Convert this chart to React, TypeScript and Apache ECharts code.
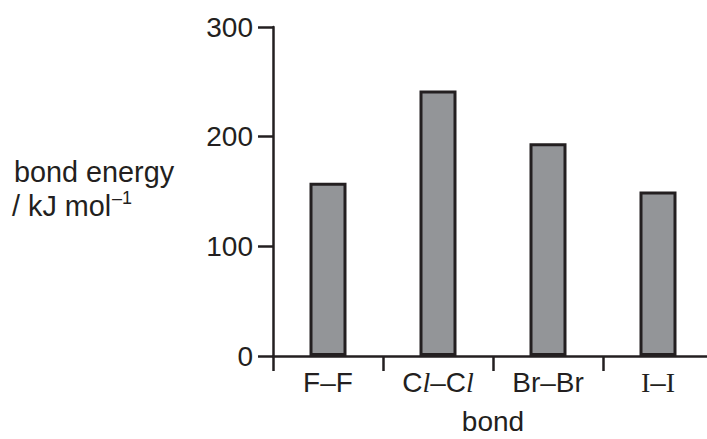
import React, { useEffect, useRef } from "react";
import * as echarts from "echarts";

const categories = ["F–F", "Cl–Cl", "Br–Br", "I–I"];
const categoryLabels = ["F–F", "C{it|l}–C{it|l}", "Br–Br", "{sf|I}–{sf|I}"];
const bondEnergies = [158, 242, 194, 150];
const yTicks = [0, 100, 200, 300];

const INK = "#231f20";
const FONT = "'Liberation Sans', Arial, Helvetica, sans-serif";
const SERIF = "'Liberation Serif', 'Times New Roman', serif";

export default function App() {
  const ref = useRef<HTMLDivElement>(null);
  useEffect(() => {
    if (!ref.current) return;
    const chart = echarts.init(ref.current, null, { renderer: "svg" });
    chart.setOption({
      animation: false,
      backgroundColor: "#ffffff",
      grid: {
        left: 273,
        top: 27,
        bottom: 83,
        right: -6,
        containLabel: false,
        outerBoundsMode: "none",
      },
      xAxis: {
        type: "category",
        data: categories,
        name: "bond",
        nameLocation: "middle",
        nameGap: 54,
        nameTextStyle: { fontFamily: FONT, fontSize: 28, lineHeight: 22, color: INK },
        axisLine: { lineStyle: { color: INK, width: 2.5 } },
        axisTick: { show: true, interval: 0, length: 15, lineStyle: { color: INK, width: 2.5 } },
        axisLabel: {
          interval: 0,
          margin: 12,
          fontFamily: FONT,
          fontSize: 28,
          color: INK,
          formatter: (_v: string, i: number) => categoryLabels[i],
          rich: {
            it: { fontFamily: SERIF, fontStyle: "italic", fontSize: 28, color: INK },
            sf: { fontFamily: SERIF, fontSize: 28, color: INK },
          },
        },
      },
      yAxis: {
        type: "value",
        min: yTicks[0],
        max: yTicks[yTicks.length - 1],
        interval: 100,
        splitLine: { show: false },
        axisLine: { show: true, lineStyle: { color: INK, width: 2.5 } },
        axisTick: { show: true, length: 15, lineStyle: { color: INK, width: 2.5 } },
        axisLabel: { margin: 20, fontFamily: FONT, fontSize: 28, color: INK },
      },
      series: [
        {
          type: "bar",
          data: bondEnergies,
          barWidth: 37,
          itemStyle: { color: "#939598", borderColor: INK, borderWidth: 3 },
        },
      ],
      graphic: [
        {
          type: "text",
          left: 14,
          top: 157,
          style: { text: "bond energy", font: `28.8px ${FONT}`, fill: INK },
        },
        {
          type: "text",
          left: 12,
          top: 191,
          style: { text: "/ kJ mol", font: `28.8px ${FONT}`, fill: INK },
        },
        {
          type: "text",
          left: 112,
          top: 189,
          style: { text: "–1", font: `18px ${FONT}`, fill: INK },
        },
      ],
    });
    return () => chart.dispose();
  }, []);
  return (
    <div
      ref={ref}
      style={{ position: "absolute", left: 0, top: 0, width: 707, height: 439 }}
    />
  );
}
